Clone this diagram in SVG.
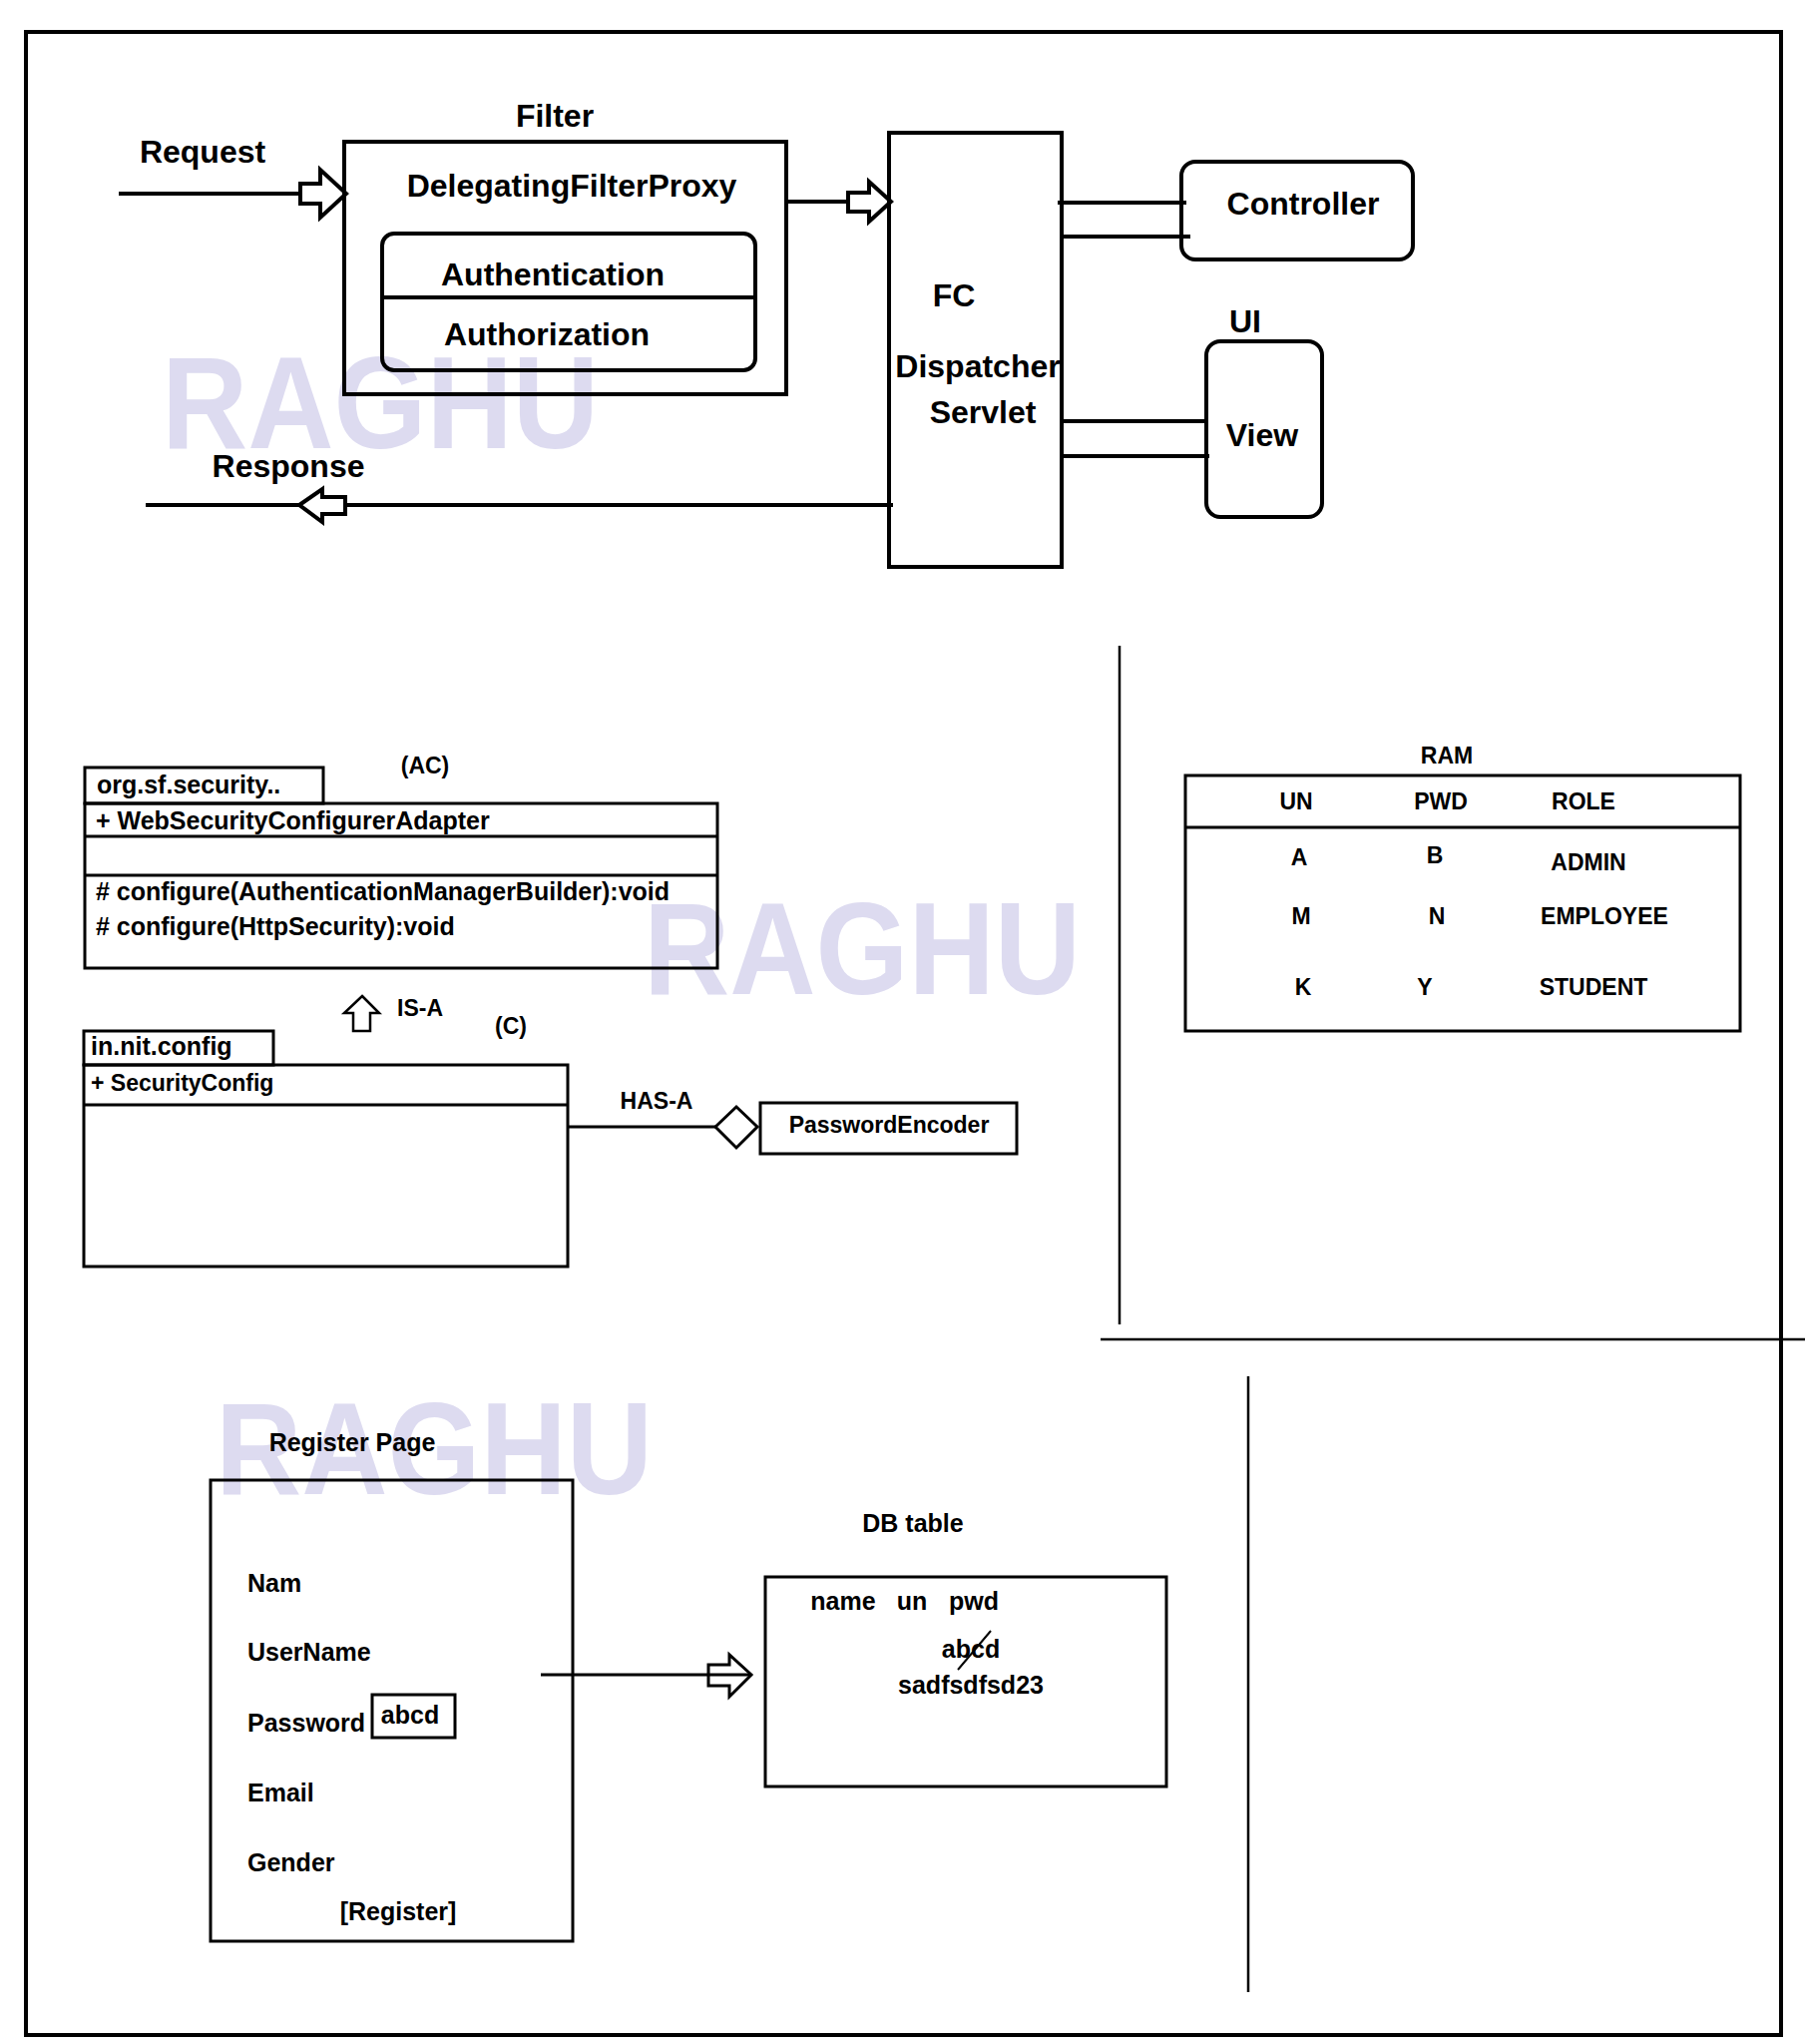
<svg xmlns="http://www.w3.org/2000/svg" width="1809" height="2048" viewBox="0 0 1809 2048">
<style>
text{font-family:"Liberation Sans",Arial,sans-serif;font-weight:bold;fill:#000}
.big{font-size:32px}
.mid{font-size:25px}
.sm{font-size:23px}
.c{text-anchor:middle}
.wm{font-size:132px;fill:#DDDBF0}
.b4{fill:none;stroke:#000;stroke-width:4}
.b3{fill:none;stroke:#000;stroke-width:3}
.ln4{stroke:#000;stroke-width:4;fill:none}
.ln3{stroke:#000;stroke-width:3;fill:none}
.ln2{stroke:#000;stroke-width:2.5;fill:none}
.harrow{fill:#fff;stroke:#000;stroke-width:4;stroke-linejoin:miter}
</style>
<rect x="0" y="0" width="1809" height="2048" fill="#fff"/>

<g id="watermarks">
<text class="wm" x="162" y="449" textLength="438" lengthAdjust="spacingAndGlyphs">RAGHU</text>
<text class="wm" x="645" y="996" textLength="438" lengthAdjust="spacingAndGlyphs">RAGHU</text>
<text class="wm" x="216" y="1497" textLength="438" lengthAdjust="spacingAndGlyphs">RAGHU</text>
</g>

<g id="frame">
<rect class="b4" x="26" y="32" width="1759" height="2007"/>
<line class="ln2" x1="1122" y1="647" x2="1122" y2="1327"/>
<line class="ln2" x1="1103" y1="1342" x2="1809" y2="1342"/>
<line class="ln2" x1="1251" y1="1379" x2="1251" y2="1996"/>
</g>

<g id="connectors">
<line class="ln4" x1="119" y1="194" x2="301" y2="194"/>
<polygon class="harrow" points="301,184 321,184 321,170 347,194 321,218 321,204 301,204"/>
<line class="ln4" x1="788" y1="202" x2="850" y2="202"/>
<polygon class="harrow" points="850,193 871,193 871,182 893,202 871,222 871,212 850,212"/>
<line class="ln4" x1="146" y1="506" x2="895" y2="506"/>
<polygon class="harrow" points="300,506 323,490 323,498 346,498 346,515 323,515 323,523"/>
<line class="ln4" x1="1060" y1="203" x2="1189" y2="203"/>
<line class="ln4" x1="1064" y1="237" x2="1193" y2="237"/>
<line class="ln4" x1="1062" y1="422" x2="1209" y2="422"/>
<line class="ln4" x1="1064" y1="457" x2="1212" y2="457"/>
<polygon points="363,998 380,1015 371,1015 371,1033 354,1033 354,1015 345,1015" fill="#fff" stroke="#000" stroke-width="2.5"/>
<line class="ln3" x1="569" y1="1129" x2="717" y2="1129"/>
<polygon points="717,1129 738,1109 759,1129 738,1150" fill="#fff" stroke="#000" stroke-width="3"/>
<line class="ln3" x1="542" y1="1678" x2="753" y2="1678"/>
<polygon points="710,1668 731,1668 731,1658 753,1678 731,1700 731,1689 710,1689" fill="none" stroke="#000" stroke-width="3"/>
</g>

<g id="labels">
<text class="big c" x="203" y="163">Request</text>
<text class="big c" x="289" y="478">Response</text>
<text class="sm c" x="426" y="775">(AC)</text>
<text class="sm c" x="421" y="1018">IS-A</text>
<text class="sm c" x="512" y="1036">(C)</text>
<text class="sm c" x="658" y="1111">HAS-A</text>
</g>

<g id="filter">
<text class="big c" x="556" y="127">Filter</text>
<rect class="b4" x="345" y="142" width="443" height="253"/>
<text class="big c" x="573" y="197">DelegatingFilterProxy</text>
</g>

<g id="auth">
<rect class="b4" x="383" y="234" width="374" height="137" rx="12"/>
<line class="ln4" x1="383" y1="298" x2="757" y2="298"/>
<text class="big c" x="554" y="286">Authentication</text>
<text class="big c" x="548" y="346">Authorization</text>
</g>

<g id="dispatcher">
<rect class="b4" x="891" y="133" width="173" height="435"/>
<text class="big c" x="956" y="307">FC</text>
<text class="big c" x="980" y="378">Dispatcher</text>
<text class="big c" x="985" y="424">Servlet</text>
</g>

<g id="controller">
<rect class="b4" x="1184" y="162" width="232" height="98" rx="14"/>
<text class="big c" x="1306" y="215">Controller</text>
</g>

<g id="view">
<text class="big c" x="1248" y="333">UI</text>
<rect class="b4" x="1209" y="342" width="116" height="176" rx="14"/>
<text class="big c" x="1265" y="447">View</text>
</g>

<g id="adapter">
<rect class="b3" x="85" y="769" width="239" height="36"/>
<text class="mid" x="97" y="795">org.sf.security..</text>
<rect class="b3" x="85" y="805" width="634" height="165"/>
<line class="ln3" x1="85" y1="838" x2="719" y2="838"/>
<line class="ln3" x1="85" y1="877" x2="719" y2="877"/>
<text class="mid" x="96" y="831">+ WebSecurityConfigurerAdapter</text>
<text class="mid" x="96" y="902"># configure(AuthenticationManagerBuilder):void</text>
<text class="mid" x="96" y="937"># configure(HttpSecurity):void</text>
</g>

<g id="securityconfig">
<rect class="b3" x="84" y="1033" width="190" height="34"/>
<text class="mid" x="91" y="1057">in.nit.config</text>
<rect class="b3" x="84" y="1067" width="485" height="202"/>
<line class="ln3" x1="84" y1="1107" x2="569" y2="1107"/>
<text class="sm" x="91" y="1093">+ SecurityConfig</text>
</g>

<g id="passwordencoder">
<rect class="b3" x="762" y="1105" width="257" height="51"/>
<text class="sm c" x="891" y="1135">PasswordEncoder</text>
</g>

<g id="ram">
<text class="sm c" x="1450" y="765">RAM</text>
<rect class="b3" x="1188" y="777" width="556" height="256"/>
<line class="ln3" x1="1188" y1="829" x2="1744" y2="829"/>
<text class="sm c" x="1299" y="811">UN</text>
<text class="sm c" x="1444" y="811">PWD</text>
<text class="sm c" x="1587" y="811">ROLE</text>
<text class="sm c" x="1302" y="867">A</text>
<text class="sm c" x="1438" y="865">B</text>
<text class="sm c" x="1592" y="872">ADMIN</text>
<text class="sm c" x="1304" y="926">M</text>
<text class="sm c" x="1440" y="926">N</text>
<text class="sm c" x="1608" y="926">EMPLOYEE</text>
<text class="sm c" x="1306" y="997">K</text>
<text class="sm c" x="1428" y="997">Y</text>
<text class="sm c" x="1597" y="997">STUDENT</text>
</g>

<g id="registerpage">
<text class="mid c" x="353" y="1454">Register Page</text>
<rect class="b3" x="211" y="1483" width="363" height="462"/>
<text class="mid" x="248" y="1595">Nam</text>
<text class="mid" x="248" y="1664">UserName</text>
<text class="mid" x="248" y="1735">Password</text>
<rect class="b3" x="373" y="1698" width="83" height="43"/>
<text class="mid c" x="411" y="1727">abcd</text>
<text class="mid" x="248" y="1805">Email</text>
<text class="mid" x="248" y="1875">Gender</text>
<text class="mid c" x="399" y="1924">[Register]</text>
</g>

<g id="dbtable">
<text class="mid c" x="915" y="1535">DB table</text>
<rect class="b3" x="767" y="1580" width="402" height="210"/>
<text class="mid c" x="845" y="1613">name</text>
<text class="mid c" x="914" y="1613">un</text>
<text class="mid c" x="976" y="1613">pwd</text>
<text class="mid c" x="973" y="1661">abcd</text>
<line x1="960" y1="1673" x2="993" y2="1634" stroke="#000" stroke-width="2"/>
<text class="mid c" x="973" y="1697">sadfsdfsd23</text>
</g>
</svg>
